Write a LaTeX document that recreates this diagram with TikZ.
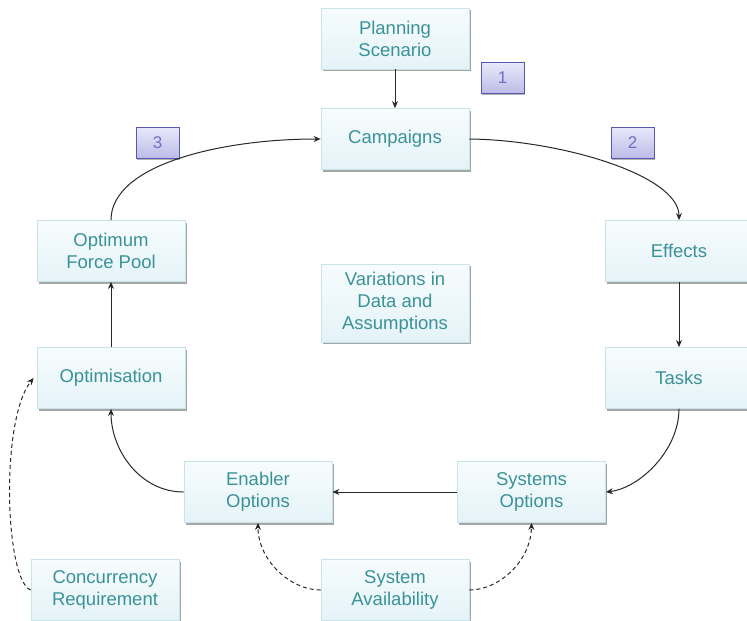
\documentclass[tikz,border=0pt]{standalone}
\usepackage{fontspec}
\setmainfont{Liberation Sans}
\usetikzlibrary{shadows,arrows.meta}
\definecolor{txt}{RGB}{58,146,152}
\definecolor{boxtop}{RGB}{247,252,253}
\definecolor{boxbot}{RGB}{228,243,248}
\definecolor{boxline}{RGB}{200,228,234}
\definecolor{numtop}{RGB}{232,232,250}
\definecolor{numbot}{RGB}{188,188,232}
\definecolor{numline}{RGB}{88,88,176}
\definecolor{numtxt}{RGB}{112,112,196}
\definecolor{conn}{RGB}{40,40,40}
\tikzset{
  stage/.style={draw=boxline, line width=0.8pt, top color=boxtop, bottom color=boxbot,
    minimum width=148pt, minimum height=61pt, align=center, text=txt,
    font=\fontsize{18.5}{22}\selectfont,
    drop shadow={shadow xshift=1.5pt, shadow yshift=-2pt, fill=black, opacity=0.35}},
  numbox/.style={draw=numline, line width=0.9pt, top color=numtop, bottom color=numbot,
    minimum width=43pt, minimum height=31pt, text=numtxt,
    font=\fontsize{17}{20}\selectfont,
    drop shadow={shadow xshift=1.2pt, shadow yshift=-1.5pt, fill=black, opacity=0.3}},
  link/.style={draw=conn, line width=1pt, -{Stealth[length=7pt,width=6pt]}},
  dlink/.style={link, dashed, dash pattern=on 4pt off 3pt}
}
\begin{document}
\begin{tikzpicture}[x=1pt,y=-1pt]
\useasboundingbox (0,0) rectangle (747,621);
\node[stage] (plan) at (395,38.5) {Planning\\Scenario};
\node[stage] (camp) at (395,139) {Campaigns};
\node[stage] (eff) at (679,251) {Effects};
\node[stage] (task) at (679,378) {Tasks};
\node[stage] (sys) at (531.5,492) {Systems\\Options};
\node[stage] (enab) at (258,492) {Enabler\\Options};
\node[stage] (optim) at (111,378) {Optimisation};
\node[stage] (pool) at (111,251) {Optimum\\Force Pool};
\node[stage, minimum height=78pt] (var) at (395,303) {Variations in\\Data and\\Assumptions};
\node[stage] (conc) at (105,590) {Concurrency\\Requirement};
\node[stage] (avail) at (395,590) {System\\Availability};
\node[numbox] (n1) at (502.5,78) {1};
\node[numbox] (n2) at (632.5,142.5) {2};
\node[numbox] (n3) at (157.5,142.5) {3};

\draw[link] (plan) -- (camp);
\draw[link] (camp.east) .. controls (560,140) and (679,175) .. (eff.north);
\draw[link] (eff) -- (task);
\draw[link] (task.south) .. controls (679,450) and (640,488) .. (sys.east);
\draw[link] (sys) -- (enab);
\draw[link] (enab.west) .. controls (140,492) and (111,450) .. (optim.south);
\draw[link] (optim) -- (pool);
\draw[link] (pool.north) .. controls (111,165) and (220,139) .. (camp.west);
\draw[dlink] (conc.west) .. controls (5,580) and (0,420) .. ([xshift=-3pt]optim.west);
\draw[dlink] (avail.west) .. controls (290,590) and (258,560) .. (enab.south);
\draw[dlink] (avail.east) .. controls (500,590) and (531,560) .. (sys.south);
\end{tikzpicture}
\end{document}
